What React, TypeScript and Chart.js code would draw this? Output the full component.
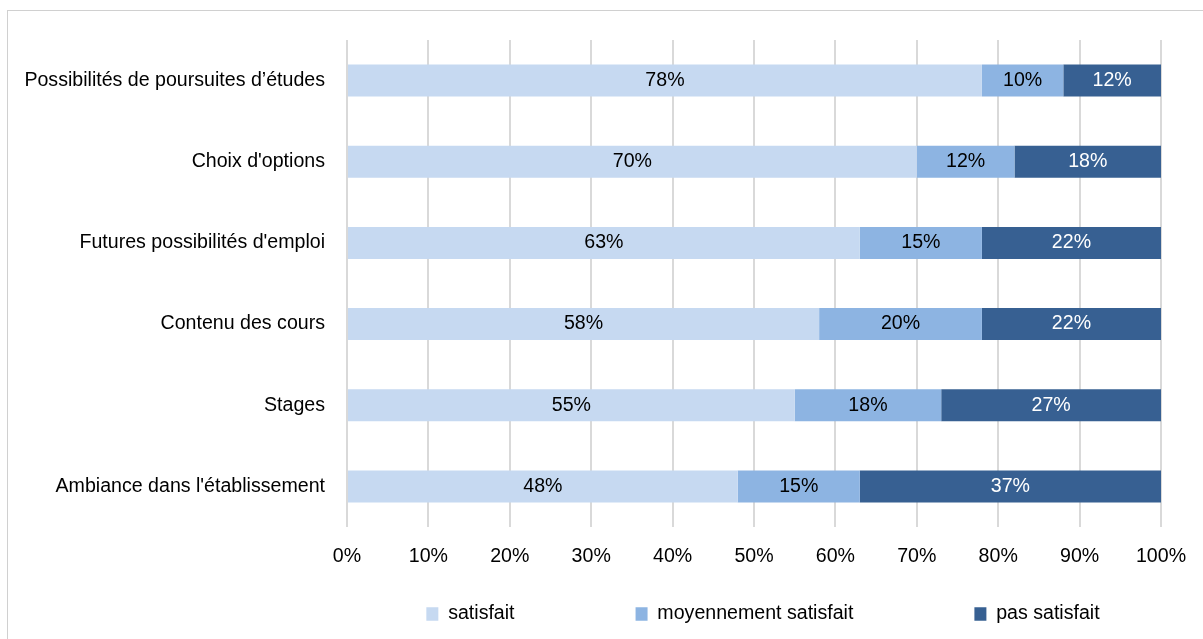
import { useEffect, useRef } from 'react';
import { Chart, registerables } from 'chart.js';

Chart.register(...registerables);

const categories = [
  'Possibilités de poursuites d’études',
  "Choix d'options",
  "Futures possibilités d'emploi",
  'Contenu des cours',
  'Stages',
  "Ambiance dans l'établissement",
];
const seriesNames = ['satisfait', 'moyennement satisfait', 'pas satisfait'];
const satisfait = [78, 70, 63, 58, 55, 48];
const moyennement = [10, 12, 15, 20, 18, 15];
const pasSatisfait = [12, 18, 22, 22, 27, 37];
const xTickValues = [0, 10, 20, 30, 40, 50, 60, 70, 80, 90, 100];
const seriesColors = ['#C6D9F1', '#8DB4E2', '#376092'];
const valueLabelColors = ['#000000', '#000000', '#FFFFFF'];

function hasFont(name: string): boolean {
  const ctx = document.createElement('canvas').getContext('2d');
  if (!ctx) return false;
  const s = 'abcdefghijklmnopqrstuvwxyz ABCDEFGHIJ 0123456789%';
  return ['monospace', 'serif'].some((fb) => {
    ctx.font = `40px ${fb}`;
    const a = ctx.measureText(s).width;
    ctx.font = `40px '${name}', ${fb}`;
    const b = ctx.measureText(s).width;
    return Math.abs(a - b) > 0.5;
  });
}

export default function App() {
  const ref = useRef<HTMLCanvasElement | null>(null);

  useEffect(() => {
    if (!ref.current) return;
    const narrow = hasFont('Liberation Sans Narrow');
    const family = narrow
      ? "'Liberation Sans Narrow', 'Liberation Sans', Arial, sans-serif"
      : "'Liberation Sans', Arial, sans-serif";
    const size = narrow ? 24 : 19.6;
    const font = { family, size, lineHeight: 1 };

    const LEGEND_PAD = 121;
    const LEGEND_CENTER_X = 763;
    const LEGEND_TEXT_Y = 614;

    const barLabels = {
      id: 'barLabels',
      afterDatasetsDraw(chart: any) {
        const ctx = chart.ctx;
        ctx.save();
        ctx.font = `${size}px ${family}`;
        ctx.textAlign = 'center';
        ctx.textBaseline = 'middle';
        chart.data.datasets.forEach((ds: any, di: number) => {
          const meta = chart.getDatasetMeta(di);
          meta.data.forEach((el: any, i: number) => {
            const p = el.getProps(['x', 'y', 'base'], true);
            ctx.fillStyle = valueLabelColors[di];
            ctx.fillText(`${ds.data[i]}%`, (p.x + p.base) / 2, p.y);
          });
        });
        ctx.restore();
      },
    };

    const legendPlace = {
      id: 'legendPlace',
      afterLayout(chart: any) {
        const lg = chart.legend;
        if (!lg) return;
        const dx = LEGEND_CENTER_X - (lg.left + lg.right) / 2;
        lg.left += dx;
        lg.right += dx;
        lg.top = LEGEND_TEXT_Y - LEGEND_PAD - size / 2;
        lg.bottom = chart.height;
        lg.height = lg.bottom - lg.top;
      },
    };

    const data = {
      labels: categories,
      datasets: [satisfait, moyennement, pasSatisfait].map((vals, i) => ({
        label: seriesNames[i],
        data: vals,
        backgroundColor: seriesColors[i],
        borderWidth: 0,
        barPercentage: 0.394,
        categoryPercentage: 1,
      })),
    };

    const chart = new Chart(ref.current, {
      type: 'bar',
      data,
      options: {
        indexAxis: 'y',
        responsive: false,
        animation: false,
        devicePixelRatio: 1,
        layout: { padding: { left: 8, right: 42, top: 40, bottom: 0 } },
        scales: {
          x: {
            stacked: true,
            min: 0,
            max: 100,
            afterBuildTicks: (s: any) => {
              s.ticks = xTickValues.map((v) => ({ value: v }));
            },
            afterFit: (s: any) => {
              s.height = 50;
              s.paddingLeft = 0;
              s.paddingRight = 0;
            },
            grid: { color: '#D9D9D9', lineWidth: 2, drawTicks: false },
            border: { display: false },
            ticks: {
              padding: 20,
              color: '#000000',
              font,
              maxRotation: 0,
              autoSkip: false,
              callback: (v: any) => `${v}%`,
            },
          },
          y: {
            stacked: true,
            afterFit: (s: any) => {
              s.width = 339;
            },
            grid: { display: false, drawTicks: false },
            border: { display: false },
            ticks: { padding: 22, color: '#000000', font, autoSkip: false },
          },
        },
        plugins: {
          legend: {
            position: 'bottom',
            maxHeight: 62,
            labels: {
              boxWidth: 12,
              boxHeight: 13.5,
              padding: LEGEND_PAD,
              color: '#000000',
              font,
            },
          },
          tooltip: { enabled: false },
        },
      } as any,
      plugins: [barLabels, legendPlace],
    });
    return () => chart.destroy();
  }, []);

  return (
    <div style={{ position: 'fixed', left: 0, top: 0, right: 0, bottom: 0, overflow: 'hidden', background: '#fff' }}>
      <div
        style={{
          position: 'absolute',
          left: 7,
          top: 10,
          width: 1300,
          height: 700,
          border: '1px solid #D0D0D0',
        }}
      />
      <canvas
        ref={ref}
        width={1203}
        height={639}
        style={{ position: 'absolute', left: 0, top: 0, width: 1203, height: 639 }}
      />
    </div>
  );
}
